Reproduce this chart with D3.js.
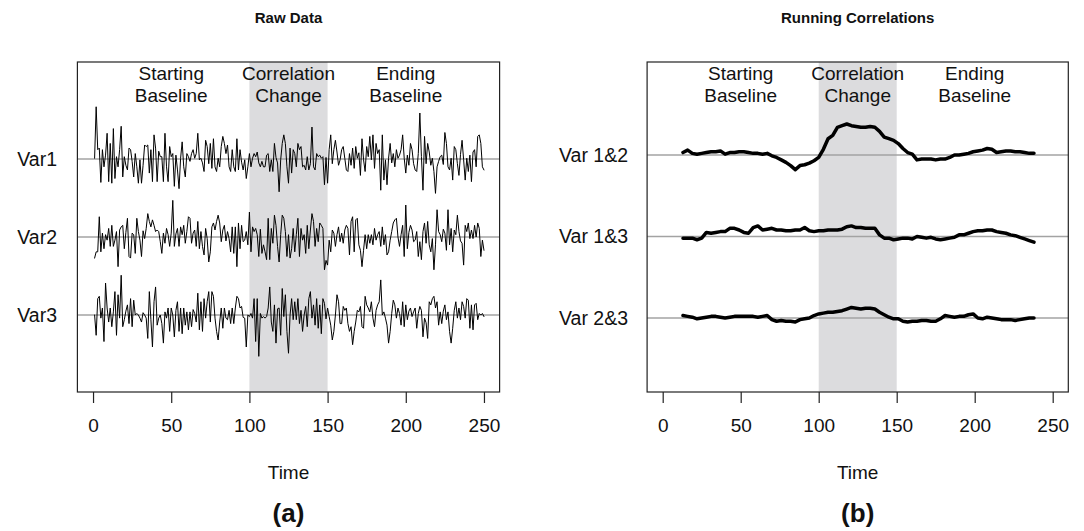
<!DOCTYPE html>
<html>
<head>
<meta charset="utf-8">
<script src="https://cdn.jsdelivr.net/npm/d3@7"></script>
<style>
  body { margin: 0; background: #fff; }
  svg text { font-family: "Liberation Sans", Arial, Helvetica, sans-serif; fill: #111; }
</style>
</head>
<body>
<svg id="chart" width="1084" height="531"></svg>
<script>
// raw series, deviations from each variable's baseline, one value per time step 1..250
const var1 = [
  0.01, 0.67, 0.12, 0.14, -0.30, 0.12, -0.10, 0.05, 0.33, -0.29,
  0.20, -0.31, 0.39, -0.25, 0.03, -0.10, 0.12, 0.42, -0.23, 0.03, -0.08,
  -0.14, 0.14, 0.12, -0.03, -0.23, 0.07, -0.10, -0.31, -0.01, -0.31,
  -0.08, 0.18, 0.16, 0.18, -0.18, 0.12, -0.29, 0.31, 0.14, -0.29, 0.10,
  0.03, 0.03, -0.29, 0.33, -0.10, -0.29, 0.16, 0.03, 0.07, -0.35, 0.05,
  -0.14, -0.38, 0.01, 0.22, -0.10, -0.23, 0.07, 0.03, -0.03, 0.07,
  0.12, 0.01, 0.07, 0.33, -0.01, 0.01, -0.05, -0.16, 0.24, 0.16, -0.06,
  0.20, -0.12, 0.26, -0.10, -0.16, 0.01, -0.10, 0.16, 0.29, 0.20,
  0.07, 0.18, -0.10, -0.16, 0.12, -0.10, -0.16, 0.26, -0.14, 0.12, -0.04,
  -0.14, -0.01, -0.25, -0.10, 0.07, -0.10, 0.01, 0.07, 0.03, 0.09, -0.05,
  -0.10, -0.03, -0.10, -0.10, 0.05, 0.07, -0.16, -0.01, -0.16, 0.20, 0.02,
  -0.05, -0.42, -0.01, 0.20, 0.31, 0.20, -0.10, -0.31, 0.14, -0.18,
  0.12,
  0.07, -0.10, 0.20, 0.12, 0.16, -0.10, -0.08, -0.14, 0.03, -0.14,
  -0.06, 0.41, -0.10, -0.14, 0.07, 0.03, 0.05, 0.01, 0.03, -0.33, 0.02,
  -0.31, 0.12, 0.31, -0.06, 0.12, 0.24, 0.09, -0.08, -0.01, 0.12,
  0.16, 0.01, -0.14, -0.16, 0.07, -0.08, 0.14, -0.12, 0.16, 0.01, 0.08,
  -0.21, 0.26, -0.01, -0.16, 0.16, 0.03, 0.29, -0.01, 0.31, -0.12,
  0.20, 0.07, 0.12, -0.40, 0.31, -0.27, -0.01, -0.33, 0.01, 0.20, -0.05,
  0.07, -0.10, 0.12, 0.01, 0.05, 0.12, 0.31, 0.01, -0.18, 0.05, -0.08,
  0.20, 0.12, -0.06, -0.14, -0.16, 0.07, 0.59, 0.03, -0.40, 0.29, -0.06,
  0.20, 0.09, -0.08, 0.01, -0.16, -0.44, -0.10, -0.03, 0.03, 0.05, -0.07,
  0.34, 0.20, -0.10, -0.14, 0.01, -0.27, 0.16, 0.12, -0.06, -0.21, 0.06,
  0.24, -0.01, -0.27, 0.01, -0.16, 0.05, -0.29, 0.09, 0.12, -0.10,
  0.29, 0.31, 0.20, -0.10, -0.14
];
const var2 = [
  -0.27, -0.19, -0.19, 0.26, -0.19, 0.05, -0.15, 0.03, -0.04, 0.11,
  -0.12, 0.15, -0.12, -0.04, 0.07, -0.38, 0.09, 0.13, 0.15, -0.15, 0.06,
  0.24, -0.25, -0.27, 0.05, 0.03, -0.21, 0.24, 0.07, -0.04, -0.25, 0.08,
  -0.02, 0.11, 0.30, 0.20, 0.13, 0.22, 0.15, 0.07, 0.09, 0.07,
  -0.06, -0.21, 0.05, -0.08, 0.11, 0.03, -0.12, 0.05, 0.47, -0.12, 0.04,
  0.11, -0.12, 0.13, 0.03, 0.15, -0.08, 0.07, 0.26, 0.24, -0.08, 0.05,
  0.09, -0.12, 0.20, -0.15, 0.07, -0.12, -0.23, 0.11, -0.02, -0.32,
  -0.19, 0.13, 0.18, 0.09, 0.20, 0.28, 0.18, -0.06, 0.09, 0.15, -0.05,
  0.07, -0.02, -0.19, 0.13, -0.21, 0.13, -0.38, 0.18, -0.15, 0.15, -0.06,
  -0.04, 0.07, -0.10, 0.32, -0.19, 0.13, 0.07, 0.11, 0.03, -0.25, 0.10,
  -0.21, -0.10, -0.19, -0.29, 0.24, -0.29, 0.11, -0.08, 0.28, 0.15, -0.12,
  -0.32, 0.03, 0.28, 0.24, 0.07, -0.25, 0.03, -0.27, -0.15, 0.11,
  -0.19, 0.03, 0.24, -0.25, 0.11, -0.04, 0.03, -0.21, 0.15, -0.15,
  0.09, 0.30, 0.20, -0.12, 0.11, -0.06, 0.18, 0.15, 0.11, -0.42, -0.30,
  -0.36, -0.04, -0.19, 0.09, 0.05, -0.12, 0.03, 0.13, -0.06, 0.05,
  -0.08, 0.09, 0.15, 0.11, -0.23, 0.20, 0.26, -0.19, 0.22, 0.24, -0.10,
  -0.17, -0.38, -0.17, 0.03, -0.15, 0.03, -0.08, 0.03, -0.10, 0.11, -0.04,
  0.03, 0.07, -0.12, 0.13, -0.10, 0.03, -0.23, -0.19, -0.04, 0.07,
  0.18, 0.22, 0.24, 0.00, -0.12, 0.03, 0.15, -0.25, 0.41, -0.15, 0.06,
  0.15, 0.09, -0.06, -0.04, 0.07, -0.25, -0.06, -0.29, 0.07, 0.18, -0.08,
  0.20, -0.10, -0.19, -0.02, -0.42, -0.10, 0.35, 0.07, 0.03, -0.06, 0.10,
  0.05, -0.17, 0.35, -0.10, 0.11, -0.19, 0.09, 0.03, 0.28, 0.07, -0.05,
  -0.08, -0.36, 0.15, 0.07, 0.18, -0.02, 0.09, -0.02, 0.15, 0.00,
  0.18, 0.11, -0.25, -0.04, -0.17
];
const var3 = [
  0.00, -0.26, 0.21, 0.24, -0.04, 0.09, -0.34, 0.41, 0.09, -0.09,
  0.09, -0.15, 0.04, 0.30, -0.26, 0.26, -0.04, 0.51, -0.15, -0.06, 0.05,
  0.13, -0.11, 0.21, -0.15, 0.19, 0.00, 0.02, 0.00, -0.04, -0.09, 0.03,
  0.00, -0.04, -0.30, 0.30, -0.06, -0.41, 0.17, 0.36, -0.13, -0.04,
  0.00, -0.11, -0.36, 0.04, -0.04, 0.09, -0.21, 0.09, 0.00, -0.28, 0.06,
  0.17, -0.21, 0.09, -0.24, 0.09, -0.13, 0.04, -0.19, 0.04, -0.15, 0.07,
  0.02, -0.09, 0.28, -0.19, 0.17, -0.21, 0.21, -0.04, 0.17, 0.30,
  -0.09, 0.30, 0.24, -0.04, -0.21, -0.32, -0.09, 0.09, -0.17, 0.09, -0.04,
  -0.06, 0.06, -0.11, 0.09, -0.11, 0.09, 0.24, 0.21, 0.09, 0.11, -0.03,
  -0.04, -0.41, 0.00, -0.02, 0.02, -0.04, 0.21, -0.34, 0.21, -0.53, 0.02,
  -0.04, -0.02, -0.04, -0.02, 0.09, 0.36, -0.09, -0.21, 0.13, -0.36, 0.08,
  0.09, -0.26, 0.34, -0.02, 0.26, -0.21, -0.49, 0.00, 0.21, -0.06,
  0.17, -0.06, 0.21, -0.11, 0.06, -0.21, 0.00, 0.11, -0.15, 0.21,
  0.30, -0.04, 0.13, -0.13, 0.21, -0.17, 0.13, -0.24, 0.21, 0.15, -0.05,
  0.09, -0.02, -0.13, -0.32, -0.21, 0.00, 0.26, 0.17, -0.11, -0.11,
  0.11, 0.06, 0.09, -0.11, -0.21, -0.15, -0.38, -0.21, -0.09, 0.06, 0.04,
  0.11, -0.15, -0.17, 0.24, 0.13, 0.09, 0.04, 0.17, -0.04, -0.15, 0.06,
  0.13, 0.17, 0.45, 0.00, 0.04, -0.04, -0.13, -0.36, -0.21, 0.02,
  0.19, 0.13, -0.04, 0.09, 0.02, -0.13, 0.17, -0.15, 0.13, -0.06, 0.05,
  0.09, -0.02, 0.04, 0.09, -0.17, 0.02, 0.11, 0.06, -0.28, -0.04, -0.10,
  -0.30, 0.17, 0.13, 0.21, 0.24, 0.09, 0.17, -0.13, 0.04, -0.11, 0.05,
  0.13, -0.06, 0.04, -0.21, -0.36, -0.17, 0.06, 0.17, -0.04, 0.09, -0.06,
  0.17, 0.11, -0.04, 0.21, 0.19, -0.17, 0.13, -0.19, 0.13, 0.15,
  -0.06, 0.02, 0.00, 0.02, -0.02
];

// running correlations (window centred), sampled every 3 steps from t = 13 to 238
const corrTime = d3.range(13, 239, 3);
const corr12 = [
  0.03, 0.06, 0.02, 0.01, 0.02, 0.03, 0.04, 0.04, 0.05, 0.01,
  0.03, 0.03, 0.04, 0.04, 0.03, 0.02, 0.02, 0.01, 0.02, -0.01,
  -0.03, -0.06, -0.09, -0.13, -0.18, -0.13, -0.12, -0.10, -0.07, -0.03,
  0.07, 0.20, 0.24, 0.34, 0.36, 0.38, 0.36, 0.35, 0.34, 0.34,
  0.35, 0.34, 0.29, 0.22, 0.20, 0.18, 0.14, 0.08, 0.03, 0.01,
  -0.06, -0.05, -0.05, -0.05, -0.06, -0.05, -0.05, -0.03, 0.00, 0.00,
  0.01, 0.02, 0.04, 0.05, 0.06, 0.08, 0.07, 0.03, 0.04, 0.05,
  0.05, 0.04, 0.04, 0.03, 0.02, 0.02
];
const corr13 = [
  -0.02, -0.02, -0.02, -0.04, -0.02, 0.05, 0.04, 0.05, 0.06, 0.06,
  0.10, 0.10, 0.08, 0.05, 0.04, 0.11, 0.13, 0.08, 0.09, 0.10,
  0.08, 0.08, 0.07, 0.07, 0.08, 0.08, 0.11, 0.07, 0.06, 0.07,
  0.07, 0.08, 0.08, 0.08, 0.09, 0.12, 0.13, 0.11, 0.11, 0.10,
  0.10, 0.10, 0.02, -0.02, -0.02, -0.04, -0.03, -0.02, -0.02, -0.03,
  0.00, -0.01, -0.02, -0.01, -0.03, -0.04, -0.03, -0.02, -0.01, 0.02,
  0.02, 0.04, 0.06, 0.07, 0.07, 0.08, 0.08, 0.06, 0.05, 0.04,
  0.02, 0.01, -0.01, -0.03, -0.05, -0.07
];
const corr23 = [
  0.03, 0.02, 0.01, -0.01, 0.00, 0.01, 0.02, 0.02, 0.01, 0.00,
  0.01, 0.02, 0.02, 0.02, 0.02, 0.02, 0.01, 0.02, 0.03, -0.02,
  -0.04, -0.03, -0.04, -0.04, -0.05, -0.02, -0.01, 0.00, 0.03, 0.05,
  0.06, 0.07, 0.07, 0.08, 0.09, 0.11, 0.13, 0.12, 0.11, 0.12,
  0.12, 0.11, 0.07, 0.04, 0.01, -0.01, -0.01, -0.04, -0.05, -0.04,
  -0.04, -0.03, -0.03, -0.04, -0.04, -0.01, 0.03, 0.02, 0.01, 0.02,
  0.02, 0.04, 0.05, 0.00, -0.01, 0.01, 0.00, -0.01, -0.02, -0.02,
  -0.02, -0.03, -0.02, -0.01, 0.00, 0.00
];

const rawNames = ["Var1", "Var2", "Var3"];
const corrNames = ["Var 1&2", "Var 1&3", "Var 2&3"];
const offsets = [3, 2, 1];
const xTicks = [0, 50, 100, 150, 200, 250];
const phaseLabels = [["Starting", "Baseline"], ["Correlation", "Change"], ["Ending", "Baseline"]];
const phaseCenters = [50, 125, 200];
const changeWindow = [100, 150];

const svg = d3.select("#chart");

function drawPanel(opt) {
  const x = d3.scaleLinear().domain([-10, 260]).range(opt.xRange);
  const y = d3.scaleLinear().domain(opt.yDomain).range([392, 62]);
  const g = svg.append("g");
  const [x0, x1] = opt.xRange;

  // shaded correlation-change period
  g.append("rect")
    .attr("x", x(changeWindow[0]))
    .attr("y", 62)
    .attr("width", x(changeWindow[1]) - x(changeWindow[0]))
    .attr("height", 330)
    .attr("fill", "#dcdcde");

  // baselines
  g.selectAll(".base")
    .data(offsets)
    .join("line")
    .attr("x1", x0).attr("x2", x1)
    .attr("y1", d => y(d)).attr("y2", d => y(d))
    .attr("stroke", "#a3a3a3")
    .attr("stroke-width", 1.6);

  const line = d3.line()
    .x(d => x(d[0]))
    .y(d => y(d[1]));

  opt.series.forEach((s, k) => {
    const pts = s.values.map((v, i) => [s.time[i], offsets[k] + v]);
    g.append("path")
      .attr("d", line(pts))
      .attr("fill", "none")
      .attr("stroke", "#000")
      .attr("stroke-width", opt.lineWidth)
      .attr("stroke-linejoin", "round")
      .attr("stroke-linecap", "round");
  });

  // box
  g.append("rect")
    .attr("x", x0).attr("y", 62)
    .attr("width", x1 - x0).attr("height", 330)
    .attr("fill", "none")
    .attr("stroke", "#222")
    .attr("stroke-width", 1.2);

  // x axis
  const ax = g.append("g")
    .attr("transform", "translate(0,392)")
    .call(d3.axisBottom(x).tickValues(xTicks).tickSize(11).tickPadding(16));
  ax.select(".domain").remove();
  ax.selectAll(".tick line").attr("stroke", "#222").attr("stroke-width", 1.2);
  ax.selectAll(".tick text")
    .style("font-size", "19px")
    .style("font-family", "Liberation Sans, Arial, sans-serif")
    .attr("fill", "#111");

  // row labels
  g.selectAll(".rowlab")
    .data(opt.names)
    .join("text")
    .attr("x", opt.labelX)
    .attr("y", (d, i) => y(offsets[i]))
    .attr("dy", "0.35em")
    .attr("text-anchor", "end")
    .style("font-size", "19.5px")
    .text(d => d);

  // phase annotations
  phaseLabels.forEach((lines, i) => {
    const t = g.append("text")
      .attr("text-anchor", "middle")
      .style("font-size", "19px");
    lines.forEach((s, j) => {
      t.append("tspan")
        .attr("x", x(phaseCenters[i]))
        .attr("y", 80 + j * 22)
        .text(s);
    });
  });

  const cx = (x0 + x1) / 2;
  g.append("text")
    .attr("x", cx).attr("y", 23)
    .attr("text-anchor", "middle")
    .style("font-size", "15px").style("font-weight", "bold")
    .text(opt.title);
  g.append("text")
    .attr("x", cx).attr("y", 479)
    .attr("text-anchor", "middle")
    .style("font-size", "19px")
    .text("Time");
  g.append("text")
    .attr("x", cx).attr("y", 522)
    .attr("text-anchor", "middle")
    .style("font-size", "26px").style("font-weight", "bold")
    .text(opt.tag);
}

const rawTime = d3.range(1, 251);

drawPanel({
  title: "Raw Data",
  tag: "(a)",
  xRange: [77.4, 499.6],
  yDomain: [0.013, 4.244],
  names: rawNames,
  labelX: 57,
  lineWidth: 1,
  series: [var1, var2, var3].map(v => ({ time: rawTime, values: v }))
});

drawPanel({
  title: "Running Correlations",
  tag: "(b)",
  xRange: [647.1, 1068.3],
  yDomain: [0.092, 4.141],
  names: corrNames,
  labelX: 628,
  lineWidth: 3.5,
  series: [corr12, corr13, corr23].map(v => ({ time: corrTime, values: v }))
});
</script>
</body>
</html>
